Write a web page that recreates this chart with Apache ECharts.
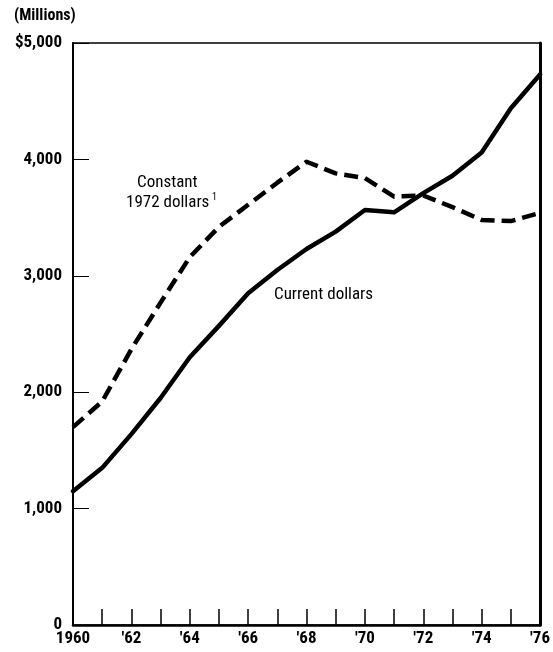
<!DOCTYPE html>
<html><head><meta charset="utf-8">
<script src="https://cdn.jsdelivr.net/npm/echarts@6/dist/echarts.min.js"></script>
<style>html,body{margin:0;padding:0;background:#fff}#c{width:553px;height:652px}</style>
</head><body><div id="c"></div>
<script>
var years = [1960,1961,1962,1963,1964,1965,1966,1967,1968,1969,1970,1971,1972,1973,1974,1975,1976];
var currentDollars = [1150,1350,1640,1950,2300,2570,2850,3050,3230,3380,3565,3545,3710,3860,4060,4440,4730];
var constantDollars = [1700,1920,2370,2770,3160,3420,3610,3800,3980,3880,3840,3680,3690,3590,3480,3470,3540];
var xTickLabels = {1960:"1960",1962:"'62",1964:"'64",1966:"'66",1968:"'68",1970:"'70",1972:"'72",1974:"'74",1976:"'76"};
var yTickLabels = {0:"0",1000:"1,000",2000:"2,000",3000:"3,000",4000:"4,000",5000:"$5,000"};

var font = "'Liberation Sans Narrow','Roboto Condensed',Roboto,sans-serif";
var chart = echarts.init(document.getElementById('c'));
function pairs(v){return years.map(function(y,i){return [y,v[i]];});}
chart.setOption({
  animation:false,
  backgroundColor:'#fff',
  grid:{left:73,right:12,top:43,bottom:27,show:true,borderColor:'#000',borderWidth:1.5,backgroundColor:'transparent'},
  xAxis:{type:'value',min:1960,max:1976,interval:1,
    axisLine:{show:true,lineStyle:{color:'#000',width:2.5}},
    axisTick:{show:true,inside:true,length:16,lineStyle:{color:'#000',width:1.5}},
    splitLine:{show:false},
    axisLabel:{color:'#000',fontFamily:font,fontWeight:'bold',fontSize:17,margin:5,
      formatter:function(v){return xTickLabels[v]||'';}}
  },
  yAxis:[{type:'value',min:0,max:5000,interval:1000,
    axisLine:{show:true,lineStyle:{color:'#000',width:2}},
    axisTick:{show:true,inside:true,length:16,lineStyle:{color:'#000',width:1}},
    splitLine:{show:false},
    axisLabel:{color:'#000',fontFamily:font,fontWeight:'bold',fontSize:17,margin:11,
      formatter:function(v){return yTickLabels[v]||'';}}
  },{type:'value',position:'right',min:0,max:5000,interval:1000,
    axisLine:{show:true,lineStyle:{color:'#000',width:3}},
    axisTick:{show:false},axisLabel:{show:false},splitLine:{show:false}
  }],
  graphic:[
    {type:'text',left:14,top:8,style:{text:'(Millions)',font:'bold 16px '+font,fill:'#000'}},
    {type:'text',left:137,top:174,style:{text:'Constant',font:'17px '+font,fill:'#000'}},
    {type:'text',left:126,top:194,style:{text:'1972 dollars',font:'17px '+font,fill:'#000'}},
    {type:'text',left:212,top:192,style:{text:'1',font:'10px '+font,fill:'#000'}},
    {type:'text',left:274,top:286,style:{text:'Current dollars',font:'17px '+font,fill:'#000'}}
  ],
  series:[
    {type:'line',name:'Current dollars',data:pairs(currentDollars),showSymbol:false,
      lineStyle:{color:'#000',width:4.5,cap:'round',join:'round'}},
    {type:'line',name:'Constant 1972 dollars',data:pairs(constantDollars),showSymbol:false,
      lineStyle:{color:'#000',width:4.5,type:[14,7],join:'round'}}
  ]
});
</script></body></html>
